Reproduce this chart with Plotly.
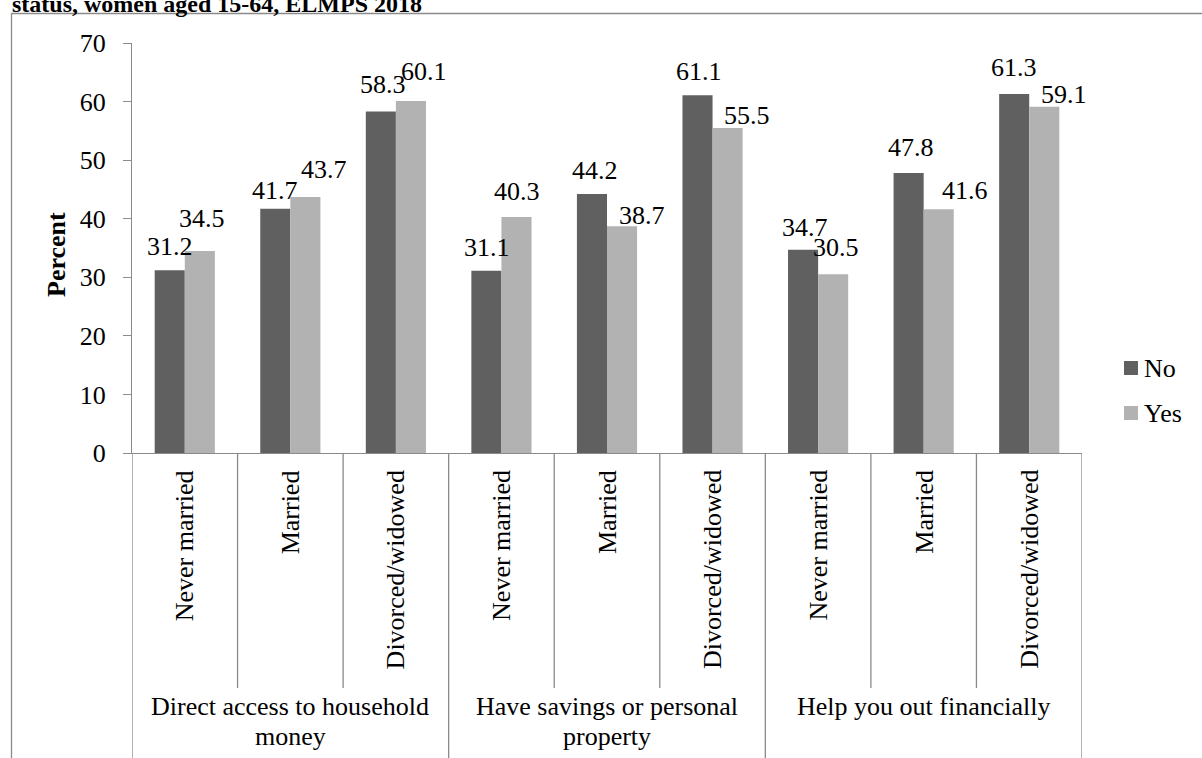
import plotly.graph_objects as go

# ---- data -------------------------------------------------------------
groups = ["Direct access to household<br>money",
          "Have savings or personal<br>property",
          "Help you out financially"]
statuses = ["Never married", "Married", "Divorced/widowed"]
series_names = ["No", "Yes"]
no_vals = [31.2, 41.7, 58.3, 31.1, 44.2, 61.1, 34.7, 47.8, 61.3]
yes_vals = [34.5, 43.7, 60.1, 40.3, 38.7, 55.5, 30.5, 41.6, 59.1]
y_ticks = [0, 10, 20, 30, 40, 50, 60, 70]
title_text = "status, women aged 15-64, ELMPS 2018"
y_title = "Percent"

# ---- style ------------------------------------------------------------
FONT = "Liberation Serif, Times New Roman, serif"
FS = 26
C_NO, C_YES = "#606060", "#b2b2b2"
C_AXIS = "#8a8a8a"
W, H = 1202, 758
L, R, T, B = 132, 120, 43, 305
PW, PH = W - L - R, H - T - B
BARGAP = 0.43
LABEL_LIFT = 23.5  # px from bar top to label centre

# label nudges in pixels (dx right, dy down) per series
no_nudge = [(0, 0), (0, 5), (2, -4), (1, 0), (3, 0), (1, 0), (2, 1), (2, -2), (0, -3)]
yes_nudge = [(2, -9), (19, -4), (13, -6), (1, -2), (20, 13), (19, 11), (3, -3), (26, 5), (20, 11)]


def px_x(px):
    return (px - L) / PW


def px_y(py):
    return (H - B - py) / PH


n = len(no_vals)
xs = list(range(n))

fig = go.Figure()
for name, vals, col in [(series_names[0], no_vals, C_NO), (series_names[1], yes_vals, C_YES)]:
    fig.add_trace(go.Bar(x=xs, y=vals, name=name, marker=dict(color=col, line=dict(width=0)),
                         showlegend=False, hoverinfo="y"))

annotations = []
shapes = []

# value labels
half = (1 - BARGAP) / 2
for vals, offs, nudges in [(no_vals, -half / 2, no_nudge), (yes_vals, half / 2, yes_nudge)]:
    for i, v in enumerate(vals):
        dx, dy = nudges[i]
        annotations.append(dict(x=i + offs, y=v, xref="x", yref="y", text=f"{v:.1f}",
                                showarrow=False, xanchor="center", yanchor="middle",
                                xshift=dx, yshift=LABEL_LIFT - dy,
                                font=dict(family=FONT, size=FS, color="#000")))

# category labels (rotated) and separators
for i in range(n):
    annotations.append(dict(x=i, y=px_y(468), xref="x", yref="paper", text=statuses[i % 3],
                            textangle=-90, showarrow=False, xanchor="center", yanchor="top",
                            font=dict(family=FONT, size=FS, color="#000")))
for k in range(n + 1):
    bottom = px_y(770) if k % 3 == 0 else px_y(688)
    shapes.append(dict(type="line", xref="x", yref="paper", x0=k - 0.5, x1=k - 0.5,
                       y0=0, y1=bottom, line=dict(color=C_AXIS, width=1.3)))

# group labels
for g, label in enumerate(groups):
    for j, line in enumerate(label.split("<br>")):
        annotations.append(dict(x=3 * g + 1, y=px_y(706 + 30 * j), xref="x", yref="paper",
                                text=line, showarrow=False, xanchor="center", yanchor="middle",
                                font=dict(family=FONT, size=FS, color="#000")))

# y-axis title
annotations.append(dict(x=px_x(56), y=px_y(255), xref="paper", yref="paper", text=f"<b>{y_title}</b>",
                        textangle=-90, showarrow=False, xanchor="center", yanchor="middle",
                        font=dict(family=FONT, size=FS, color="#000")))

# title line above the chart frame
annotations.append(dict(x=px_x(10), y=px_y(4), xref="paper", yref="paper", text=f"<b>{title_text}</b>",
                        showarrow=False, xanchor="left", yanchor="middle",
                        font=dict(family=FONT, size=24, color="#000")))

# legend drawn as swatches + labels
for j, (name, col) in enumerate([(series_names[0], C_NO), (series_names[1], C_YES)]):
    cy = 368 + 45 * j
    shapes.append(dict(type="rect", xref="paper", yref="paper", x0=px_x(1124), x1=px_x(1138),
                       y0=px_y(cy + 7), y1=px_y(cy - 7), fillcolor=col, line=dict(width=0)))
    annotations.append(dict(x=px_x(1142), y=px_y(cy), xref="paper", yref="paper", text=name,
                            showarrow=False, xanchor="left", yanchor="middle",
                            font=dict(family=FONT, size=FS, color="#000")))

# outer chart frame
shapes.append(dict(type="rect", xref="paper", yref="paper", x0=px_x(11.5), x1=px_x(1230),
                   y0=px_y(800), y1=px_y(13.5), line=dict(color=C_AXIS, width=1.3),
                   fillcolor="rgba(0,0,0,0)", layer="below"))

fig.update_layout(
    width=W, height=H, margin=dict(l=L, r=R, t=T, b=B, pad=0),
    paper_bgcolor="white", plot_bgcolor="white",
    barmode="group", bargap=BARGAP, bargroupgap=0,
    showlegend=False,
    font=dict(family=FONT, size=FS, color="#000"),
    xaxis=dict(range=[-0.5, n - 0.5], showticklabels=False, ticks="", showgrid=False,
               zeroline=False, showline=True, linecolor=C_AXIS, linewidth=1.3, fixedrange=True),
    yaxis=dict(range=[0, 70], tickvals=y_ticks, ticks="outside", ticklen=8, tickcolor=C_AXIS,
               tickwidth=1.3, showgrid=False, zeroline=False, showline=True, linecolor=C_AXIS,
               linewidth=1.3, tickfont=dict(family=FONT, size=FS, color="#000"),
               ticklabelstandoff=12, fixedrange=True),
    annotations=annotations, shapes=shapes,
)

fig.write_html("out.html")
